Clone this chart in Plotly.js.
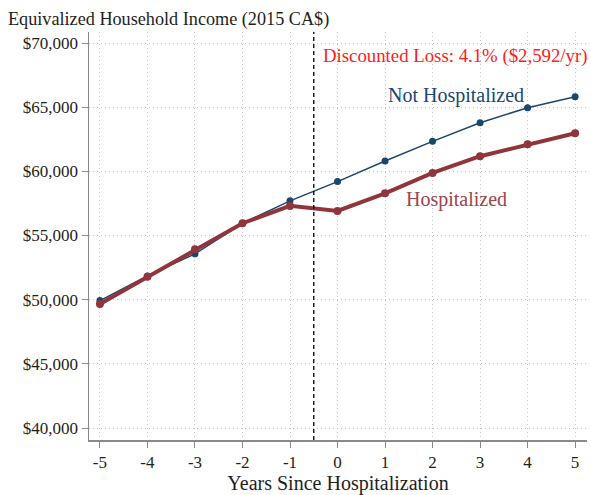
<!DOCTYPE html>
<html>
<head>
<meta charset="utf-8">
<script src="https://cdn.plot.ly/plotly-3.0.1.min.js"></script>
<style>html,body{margin:0;padding:0;background:#fff;}#chart{width:591px;height:495px;}</style>
</head>
<body>
<div id="chart"></div>
<script>
const years = [-5, -4, -3, -2, -1, 0, 1, 2, 3, 4, 5];
const notHospitalized = [49930, 51850, 53570, 55950, 57700, 59200, 60810, 62340, 63790, 64960, 65820];
const hospitalized = [49670, 51780, 53930, 55960, 57310, 56920, 58290, 59880, 61180, 62110, 62970];
const yTickVals = [40000, 45000, 50000, 55000, 60000, 65000, 70000];
const yTickText = ["$40,000", "$45,000", "$50,000", "$55,000", "$60,000", "$65,000", "$70,000"];
const eventYear = -0.5;
const lossLabel = "Discounted Loss: 4.1% ($2,592/yr)";

const FONT = "Liberation Serif, DejaVu Serif, serif";
const BLUE = "#1a476f";
const RED = "#90353b";
const TXT = "#1e1e1e";

const traces = [
  {x: years, y: notHospitalized, type: "scatter", mode: "lines+markers",
   line: {color: BLUE, width: 1.5}, marker: {color: BLUE, size: 7}, name: "Not Hospitalized", cliponaxis: false},
  {x: years, y: hospitalized, type: "scatter", mode: "lines+markers",
   line: {color: RED, width: 4}, marker: {color: RED, size: 8}, name: "Hospitalized", cliponaxis: false}
];

const axisCommon = {
  showline: true, linecolor: "#8a8a8a", linewidth: 1.5, ticks: "outside", ticklen: 6, tickcolor: "#8a8a8a",
  showgrid: true, gridcolor: "#c4c4c4", griddash: "1px,3px", gridwidth: 1, zeroline: false,
  tickfont: {family: FONT, size: 17, color: TXT}
};

const layout = {
  width: 591, height: 495,
  margin: {l: 89, r: 4, t: 32, b: 55},
  paper_bgcolor: "#fff", plot_bgcolor: "#fff",
  showlegend: false,
  font: {family: FONT, size: 17, color: TXT},
  title: {text: "Equivalized Household Income (2015 CA$)", x: 0.0135, xanchor: "left", y: 0.962, yanchor: "middle",
          font: {family: FONT, size: 18.2, color: TXT}},
  xaxis: Object.assign({}, axisCommon, {range: [-5.23, 5.25], tickvals: years, ticktext: years.map(String),
          title: {text: "Years Since Hospitalization", font: {family: FONT, size: 20, color: TXT}, standoff: 12}}),
  yaxis: Object.assign({}, axisCommon, {range: [39065, 70860], tickvals: yTickVals, ticktext: yTickText}),
  shapes: [
    {type: "line", xref: "x", yref: "paper", x0: eventYear, x1: eventYear, y0: 0, y1: 1,
     line: {color: "#000", width: 1.3, dash: "4px,3px"}}
  ],
  annotations: [
    {text: lossLabel, xref: "x", yref: "paper", x: eventYear, y: 0.94, xanchor: "left", xshift: 7, yanchor: "middle",
     showarrow: false, font: {family: FONT, size: 18.8, color: "#ff2020"}},
    {text: "Not Hospitalized", xref: "x", yref: "y", x: 2.5, y: 65950, xanchor: "center", yanchor: "middle",
     showarrow: false, font: {family: FONT, size: 20, color: BLUE}},
    {text: "Hospitalized", xref: "x", yref: "y", x: 2.5, y: 57800, xanchor: "center", yanchor: "middle",
     showarrow: false, font: {family: FONT, size: 20, color: "#a0434a"}}
  ]
};

Plotly.newPlot("chart", traces, layout, {staticPlot: true, displayModeBar: false});
</script>
</body>
</html>
